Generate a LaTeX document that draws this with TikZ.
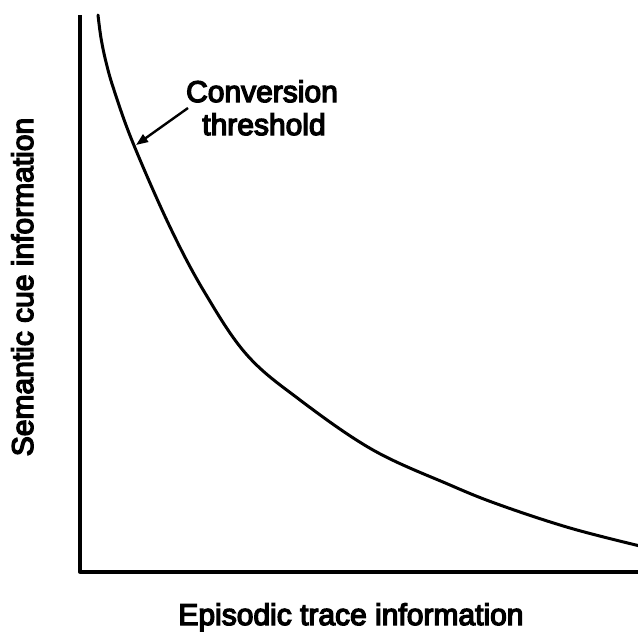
\documentclass[tikz,border=0pt]{standalone}
\usepackage{fontspec}
\setmainfont{Liberation Sans}
\newfontfamily\lblfont[FakeBold=4.5]{Liberation Sans}
\usetikzlibrary{arrows.meta}
\begin{document}
\begin{tikzpicture}[x=1pt,y=-1pt,
  axisline/.style={line width=3.3pt,line join=round},
  curveline/.style={line width=3pt,line cap=round},
  pointer/.style={line width=2.4pt,-{Triangle[length=12pt,width=9pt]}},
  lbl/.style={font=\lblfont\fontsize{30}{33}\selectfont,inner sep=0pt}]
\useasboundingbox (0,0) rectangle (638,632);
\coordinate (ytop) at (80,15);
\coordinate (origin) at (80,572);
\coordinate (xend) at (640,572);
\draw[axisline] (ytop) -- (origin) -- (xend);
\draw[curveline] plot[smooth,tension=0.6] coordinates {
  (98,15) (101,38) (106,62) (114,90) (133,143) (170,227) (205,293) (247,355)
  (300,400) (373,450) (450,485) (500,505) (570,528) (640,546)};
\node[lbl,anchor=base] (conv) at (262,102) {Conversion};
\node[lbl,anchor=base] (thr) at (264,135) {threshold};
\coordinate (arrtail) at (188,108);
\coordinate (arrtip) at (136,145);
\draw[pointer] (arrtail) -- (arrtip);
\node[lbl,anchor=base] (xlabel) at (351,625) {Episodic trace information};
\node[lbl,anchor=base,rotate=90] (ylabel) at (33,287) {Semantic cue information};
\end{tikzpicture}
\end{document}
